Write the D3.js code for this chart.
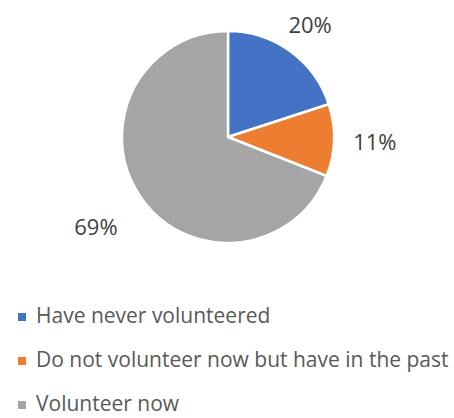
<!DOCTYPE html>
<html lang="en">
<head>
    <meta charset="UTF-8">
    <title>Volunteering</title>
    <script src="https://d3js.org/d3.v7.min.js"></script>
    <style>
        body {
            margin: 0;
            padding: 0;
            background: #fff;
            font-family: 'Open Sans', sans-serif;
        }

        .label {
            font-size: 22px;
            fill: #404040;
        }

        .legend text {
            font-size: 21px;
            fill: #595959;
        }
    </style>
</head>
<body>
    <svg id="chart" width="454" height="418"></svg>
    <script>
        const categories = ["Have never volunteered", "Do not volunteer now but have in the past", "Volunteer now"];
        const values = [20, 11, 69];
        const labels = ["20%", "11%", "69%"];
        const colors = ["#4472C4", "#ED7D31", "#A5A5A5"];

        const svg = d3.select("#chart");
        const cx = 228, cy = 137, radius = 106;
        // distancia entre a borda da pizza e a caixa do texto (tipo "best fit" do Excel)
        const labelGap = [14, 19, 31];

        const pie = d3.pie().sort(null).value(d => d);
        const arcs = pie(values);
        const arc = d3.arc().innerRadius(0).outerRadius(radius);

        const g = svg.append("g").attr("transform", `translate(${cx},${cy})`);

        g.selectAll("path")
            .data(arcs)
            .enter()
            .append("path")
            .attr("d", arc)
            .attr("fill", (d, i) => colors[i])
            .attr("stroke", "#fff")
            .attr("stroke-width", 2.5)
            .attr("stroke-linejoin", "round");

        // etiquetas de percentagem fora da pizza
        const texts = g.selectAll(".label")
            .data(arcs)
            .enter()
            .append("text")
            .attr("class", "label")
            .attr("text-anchor", "middle")
            .text((d, i) => labels[i]);

        texts.each(function (d, i) {
            const box = this.getBBox();
            const a = (d.startAngle + d.endAngle) / 2;
            const s = Math.sin(a), c = Math.cos(a);
            const halfW = box.width / 2, halfH = 8.5;
            const dist = radius + labelGap[i] + halfW * Math.abs(s) + halfH * Math.abs(c);
            const x = dist * s;
            const y = -dist * c;
            d3.select(this).attr("x", x).attr("y", y + halfH);
        });

        // legenda
        const legend = svg.append("g").attr("class", "legend");
        const rowY = d3.scalePoint().domain(categories).range([323, 411]);

        const rows = legend.selectAll("g")
            .data(categories)
            .enter()
            .append("g")
            .attr("transform", d => `translate(18,${rowY(d)})`);

        rows.append("rect")
            .attr("x", 0)
            .attr("y", -10)
            .attr("width", 8)
            .attr("height", 8)
            .attr("fill", (d, i) => colors[i]);

        rows.append("text")
            .attr("x", 18)
            .attr("y", 0)
            .text(d => d);
    </script>
</body>
</html>
